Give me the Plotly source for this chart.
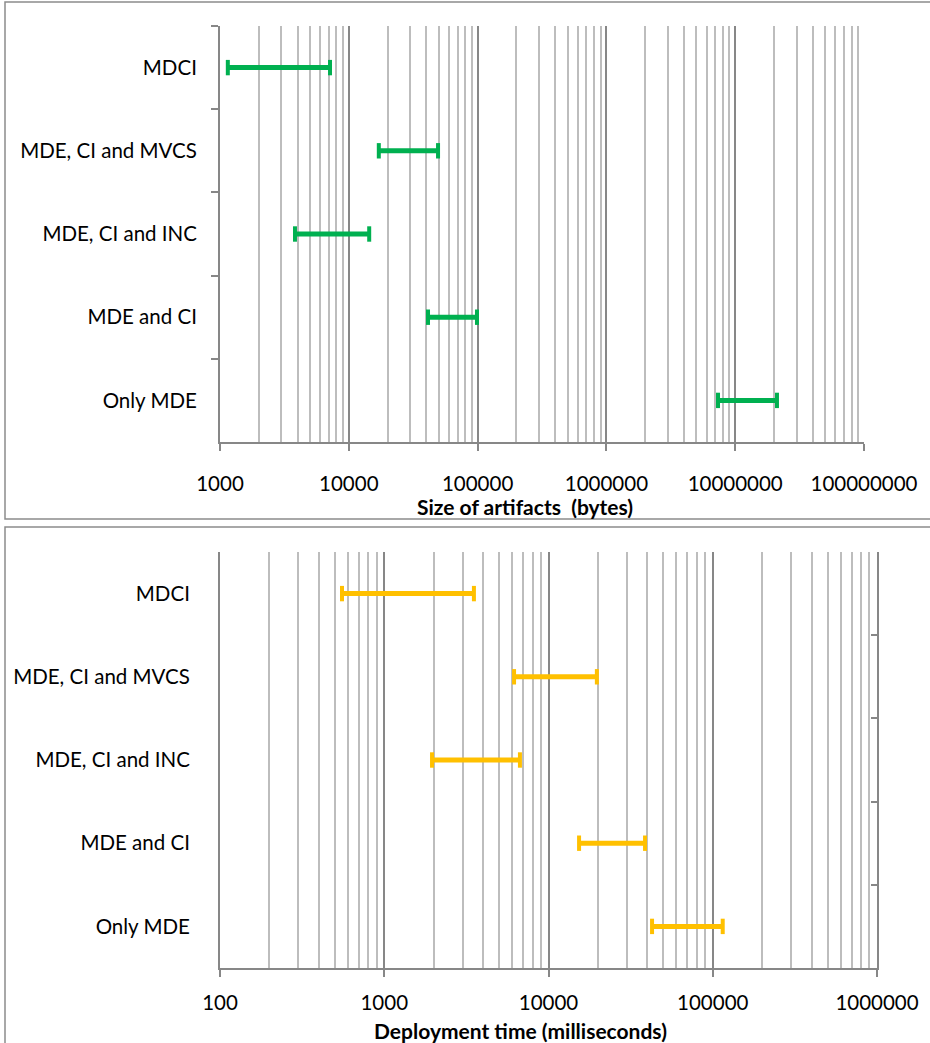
import plotly.graph_objects as go

categories = ["MDCI", "MDE, CI and MVCS", "MDE, CI and INC", "MDE and CI", "Only MDE"]
size_min = [1150, 17100, 3820, 41200, 7350000]
size_max = [7150, 49300, 14400, 98900, 21100000]
time_min = [553, 6170, 1954, 15350, 42700]
time_max = [3515, 19700, 6700, 38700, 115000]

size_ticks = [1000, 10000, 100000, 1000000, 10000000, 100000000]
time_ticks = [100, 1000, 10000, 100000, 1000000]

W, H = 930, 1043
FONT = "Lato"
GREEN = "#00B050"
ORANGE = "#FFC000"
MAJOR = "#878787"
MINOR = "#BDBDBD"


def seg(lo, hi, cats):
    xs, ys = [], []
    for a, b, c in zip(lo, hi, cats):
        xs += [a, b, None]
        ys += [c, c, None]
    return xs, ys


def minor_vals(ticks):
    vals = []
    for t in ticks[:-1]:
        for k in range(2, 10):
            vals.append(t * k)
    return vals


fig = go.Figure()

xs, ys = seg(size_min, size_max, categories)
fig.add_trace(go.Scatter(x=xs, y=ys, mode="lines+markers", xaxis="x", yaxis="y",
                         line=dict(color=GREEN, width=5),
                         marker=dict(symbol="line-ns", size=11, line=dict(color=GREEN, width=4)),
                         showlegend=False, hoverinfo="skip"))
xs, ys = seg(time_min, time_max, categories)
fig.add_trace(go.Scatter(x=xs, y=ys, mode="lines+markers", xaxis="x2", yaxis="y2",
                         line=dict(color=ORANGE, width=5),
                         marker=dict(symbol="line-ns", size=11, line=dict(color=ORANGE, width=4)),
                         showlegend=False, hoverinfo="skip"))
# invisible trace to carry the right-side tick axis of the bottom panel
fig.add_trace(go.Scatter(x=[time_ticks[0]], y=[categories[0]], xaxis="x2", yaxis="y3",
                         mode="markers", marker=dict(opacity=0), showlegend=False, hoverinfo="skip"))

xtickfont = dict(family=FONT, size=20.5, color="#000000")
ytickfont = dict(family=FONT, size=20.5, color="#000000")

xcommon = dict(type="log", showline=True, linecolor=MAJOR, linewidth=2,
               ticks="outside", ticklen=7, tickcolor=MAJOR, tickwidth=1.5,
               showgrid=True, gridcolor=MAJOR, gridwidth=1.8,
               exponentformat="none", tickfont=xtickfont,
               zeroline=False, automargin=False)

ycommon = dict(type="category", categoryarray=categories, range=[4.5, -0.5],
               showline=True, linecolor=MAJOR, linewidth=2, showgrid=False,
               automargin=False, zeroline=False)

fig.update_layout(
    width=W, height=H,
    margin=dict(l=0, r=0, t=0, b=0, autoexpand=False),
    paper_bgcolor="white", plot_bgcolor="white",
    font=dict(family=FONT, size=17, color="#000000"),
    xaxis=dict(**xcommon, domain=[220 / W, 864 / W], anchor="y", ticklabelstandoff=15,
               range=[3, 8], tickvals=size_ticks, ticktext=[str(t) for t in size_ticks],
               minor=dict(tickvals=minor_vals(size_ticks), showgrid=True, gridcolor=MINOR,
                          gridwidth=1.8, ticks="")),
    yaxis=dict(**ycommon, domain=[1 - 442 / H, 1 - 26 / H], anchor="x",
               ticks="outside", tickson="boundaries", ticklen=7, tickcolor=MAJOR, tickwidth=1.5,
               tickfont=ytickfont, ticklabelstandoff=17),
    xaxis2=dict(**xcommon, domain=[220 / W, 877 / W], anchor="y2", ticklabelstandoff=8,
                range=[2, 6], tickvals=time_ticks, ticktext=[str(t) for t in time_ticks],
                minor=dict(tickvals=minor_vals(time_ticks), showgrid=True, gridcolor=MINOR,
                           gridwidth=1.8, ticks="")),
    yaxis2=dict(**ycommon, domain=[1 - 968 / H, 1 - 552 / H], anchor="x2",
                ticks="", tickfont=ytickfont, ticklabelstandoff=24),
    yaxis3=dict(**ycommon, overlaying="y2", side="right", anchor="x2",
                ticks="inside", tickson="boundaries", ticklen=6, tickcolor=MAJOR, tickwidth=1.5,
                showticklabels=False),
    shapes=[
        dict(type="rect", xref="paper", yref="paper", x0=5 / W, x1=935 / W,
             y0=1 - 519 / H, y1=1 - 2 / H, line=dict(color="#8C8C8C", width=1.5)),
        dict(type="rect", xref="paper", yref="paper", x0=5 / W, x1=935 / W,
             y0=1 - 1050 / H, y1=1 - 527 / H, line=dict(color="#8C8C8C", width=1.5)),
    ],
    annotations=[
        dict(text="<b>Size of artifacts  (bytes)</b>", xref="paper", yref="paper",
             x=525 / W, y=1 - 506 / H, showarrow=False, xanchor="center", yanchor="middle",
             font=dict(family=FONT, size=21, color="#000000")),
        dict(text="<b>Deployment time (milliseconds)</b>", xref="paper", yref="paper",
             x=520 / W, y=1 - 1030 / H, showarrow=False, xanchor="center", yanchor="middle",
             font=dict(family=FONT, size=21, color="#000000")),
    ],
)

fig.write_html("out.html", config={"displayModeBar": False},
               post_script="document.body.style.margin='0';document.body.style.overflow='hidden';")
